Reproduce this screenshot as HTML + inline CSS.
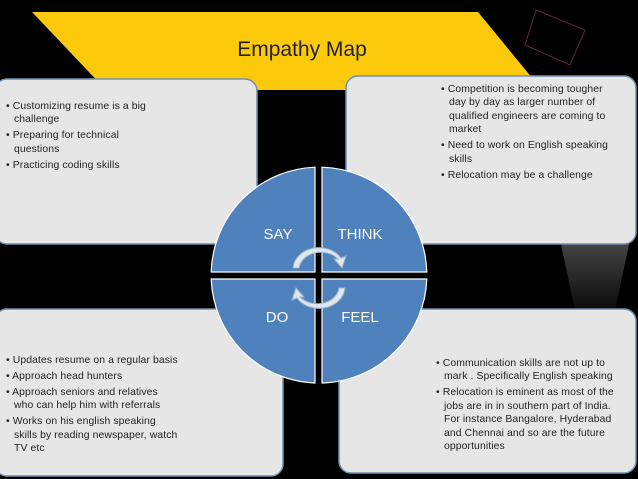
<!DOCTYPE html>
<html><head><style>
body{margin:0;background:#000;}
#w{position:relative;width:638px;height:479px;overflow:hidden;background:#000;font-family:"Liberation Sans",sans-serif;}
.t{position:absolute;font-size:10.4px;line-height:13.4px;color:#222;white-space:nowrap;letter-spacing:0.1px;}
.t p{margin:0 0 2.6px 0;padding-left:8px;text-indent:-8px;}
</style></head><body><div id="w">
<svg width="638" height="479" style="position:absolute;left:0;top:0">
<defs><linearGradient id="g" x1="0" y1="0" x2="0" y2="1"><stop offset="0" stop-color="#777"/><stop offset="1" stop-color="#111"/></linearGradient></defs>
<polygon points="560,240 630,240 615,310 575,310" fill="url(#g)" opacity="0.6"/>
<polygon points="536,10 585,30 570,65 525,45" fill="none" stroke="#5a2a35" stroke-width="1"/>
<polygon points="32,12 478,12 542,90 106,90" fill="#fdc90b"/>
<text x="302" y="56" font-family="Liberation Sans, sans-serif" font-size="21" fill="#222" text-anchor="middle">Empathy Map</text>
<rect x="-5" y="79" width="262" height="165" rx="12" fill="#e6e6e6" stroke="#6f8fb3" stroke-width="1.5"/>
<rect x="346" y="76" width="290" height="168" rx="12" fill="#e6e6e6" stroke="#6f8fb3" stroke-width="1.5"/>
<rect x="-5" y="309" width="288" height="167" rx="12" fill="#e6e6e6" stroke="#6f8fb3" stroke-width="1.5"/>
<rect x="339" y="309" width="297" height="164" rx="12" fill="#e6e6e6" stroke="#6f8fb3" stroke-width="1.5"/>
<g fill="#4f81bd" stroke="#fff" stroke-width="1.2">
<path d="M315,272 L315,167.2 A108,108 0 0 0 211.2,272 Z"/>
<path d="M322,272 L322,167.2 A108,108 0 0 1 426.8,272 Z"/>
<path d="M315,279 L211.2,279 A108,108 0 0 0 315,383 Z"/>
<path d="M322,279 L426.8,279 A108,108 0 0 1 322,383 Z"/>
</g>
<g font-family="Liberation Sans, sans-serif" font-size="15" fill="#fff" text-anchor="middle">
<text x="278" y="239">SAY</text><text x="360" y="239">THINK</text>
<text x="277" y="322">DO</text><text x="360" y="322">FEEL</text>
</g>
<g fill="#dfe6f0" stroke="#9fb3cc" stroke-width="1">
<path d="M293,268 A26,22 0 0 1 341,258 L346,256 L342,268 L334,259 L338,259 A22,18 0 0 0 299,268 Z"/>
<path d="M345,288 A26,22 0 0 1 297,298 L292,300 L296,288 L304,297 L300,297 A22,18 0 0 0 339,288 Z"/>
</g>
</svg>
<div class="t" style="left:6px;top:100px">
<p>• Customizing resume is a big<br>challenge</p><p>• Preparing for technical<br>questions</p><p>• Practicing coding skills</p></div>
<div class="t" style="left:441px;top:83px">
<p>• Competition is becoming tougher<br>day by day as larger number of<br>qualified engineers are coming to<br>market</p><p>• Need to work on English speaking<br>skills</p><p>• Relocation may be a challenge</p></div>
<div class="t" style="left:6px;top:354px">
<p>• Updates resume on a regular basis</p><p>• Approach head hunters</p><p>• Approach seniors and relatives<br>who can help him with referrals</p><p>• Works on his english speaking<br>skills by reading newspaper, watch<br>TV etc</p></div>
<div class="t" style="left:436px;top:357px">
<p>• Communication skills are not up to<br>mark . Specifically English speaking</p><p>• Relocation is eminent as most of the<br>jobs are in in southern part of India.<br>For instance Bangalore, Hyderabad<br>and Chennai and so are the future<br>opportunities</p></div>
</div></body></html>
